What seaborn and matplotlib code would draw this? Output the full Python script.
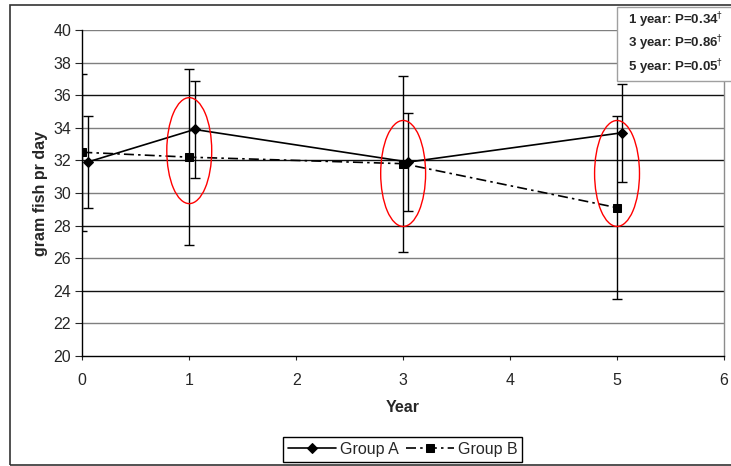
import matplotlib

matplotlib.use("Agg")
import pandas as pd
import seaborn as sns
import matplotlib.pyplot as plt
from matplotlib.patches import Ellipse, Rectangle

# data
years = [0, 1, 3, 5]
group_a_mean = [31.9, 33.9, 31.9, 33.7]
group_a_sd = [2.8, 3.0, 3.0, 3.0]
group_b_mean = [32.5, 32.2, 31.8, 29.1]
group_b_sd = [4.8, 5.4, 5.4, 5.6]
a_shift = 0.05  # group A drawn slightly right of the year

p_labels = ["1 year: P=0.34", "3 year: P=0.86", "5 year: P=0.05"]
highlight_years = [1, 3, 5]
highlight_centers = [32.6, 31.2, 31.2]

df = pd.DataFrame({
    "Year": [y + a_shift for y in years] + years,
    "value": group_a_mean + group_b_mean,
    "group": ["Group A"] * len(years) + ["Group B"] * len(years),
})

sns.set_style("white")
plt.rcParams["font.family"] = ["Liberation Sans", "DejaVu Sans"]

fig = plt.figure(figsize=(7.31, 4.66), dpi=100)
ax = fig.add_axes([0.1126, 0.236, 0.8778, 0.6996])

# horizontal grid, alternating dark / gray like the original
for v in range(22, 41, 2):
    col = "#111111" if (v % 4 == 0 and v != 40) else "#7f7f7f"
    ax.axhline(v, color=col, lw=1.0, zorder=0)

# error bars
ax.errorbar([y + a_shift for y in years], group_a_mean, yerr=group_a_sd, fmt="none",
            ecolor="black", elinewidth=1.0, capsize=3.5, capthick=1.0, zorder=2)
ax.errorbar(years, group_b_mean, yerr=group_b_sd, fmt="none",
            ecolor="black", elinewidth=1.0, capsize=3.5, capthick=1.0, zorder=2)

sns.lineplot(data=df, x="Year", y="value", hue="group", style="group",
             palette={"Group A": "black", "Group B": "black"},
             markers={"Group A": "D", "Group B": "s"},
             dashes={"Group A": "", "Group B": (6, 2.5, 1.5, 2.5)},
             markersize=5.5, markeredgecolor="black", linewidth=1.2,
             ax=ax, zorder=3)

# red highlight ellipses
for hx, hy in zip(highlight_years, highlight_centers):
    ax.add_patch(Ellipse((hx, hy), width=0.42, height=6.5, fill=False,
                         edgecolor="red", lw=1.0, zorder=4))

ax.set_xlim(0, 6)
ax.set_ylim(20, 40)
ax.set_xticks(range(0, 7))
ax.set_yticks(range(20, 41, 2))
ax.tick_params(axis="y", direction="out", length=5, width=0.8, pad=3,
               labelsize=11.5, left=True)
ax.tick_params(axis="x", direction="out", length=3, width=0.8, pad=9,
               labelsize=11.5, bottom=True)
ax.set_xlabel("Year", fontsize=11.5, fontweight="bold", labelpad=9)
ax.set_ylabel("gram fish pr day", fontsize=11.5, fontweight="bold", labelpad=4)

for side in ["left", "bottom"]:
    ax.spines[side].set_color("black")
    ax.spines[side].set_linewidth(1.0)
ax.spines["top"].set_visible(False)
ax.spines["right"].set_color("#8c8c8c")
ax.spines["right"].set_linewidth(1.0)

handles, labels = ax.get_legend_handles_labels()
ax.legend_.remove()
fig.legend(handles, labels, loc="center", bbox_to_anchor=(0.5506, 0.0354),
           ncol=2, frameon=True, fancybox=False, edgecolor="black",
           fontsize=11.5, handlelength=3.0, columnspacing=0.45, handletextpad=0.25,
           borderpad=0.3, framealpha=1)
fig.legends[0].get_frame().set_linewidth(1.0)

# outer chart border (right edge falls outside the picture)
fig.patches.append(Rectangle((10 / 731, 1 / 466), 730 / 731, 460 / 466,
                             transform=fig.transFigure, fill=False,
                             edgecolor="#333333", lw=1.2, zorder=0))

# p-value box
fig.patches.append(Rectangle((617 / 731, 1 - 81 / 466), 120 / 731, 74 / 466,
                             transform=fig.transFigure, facecolor="white",
                             edgecolor="#a0a0a0", lw=1.0, zorder=5))
for i, txt in enumerate(p_labels):
    fig.text(628 / 731, 1 - (20 + i * 23.5) / 466, txt + r"$^{\dagger}$",
             fontsize=9.5, fontweight="bold", va="center", ha="left", zorder=6)

fig.savefig("out.png", dpi=100)
